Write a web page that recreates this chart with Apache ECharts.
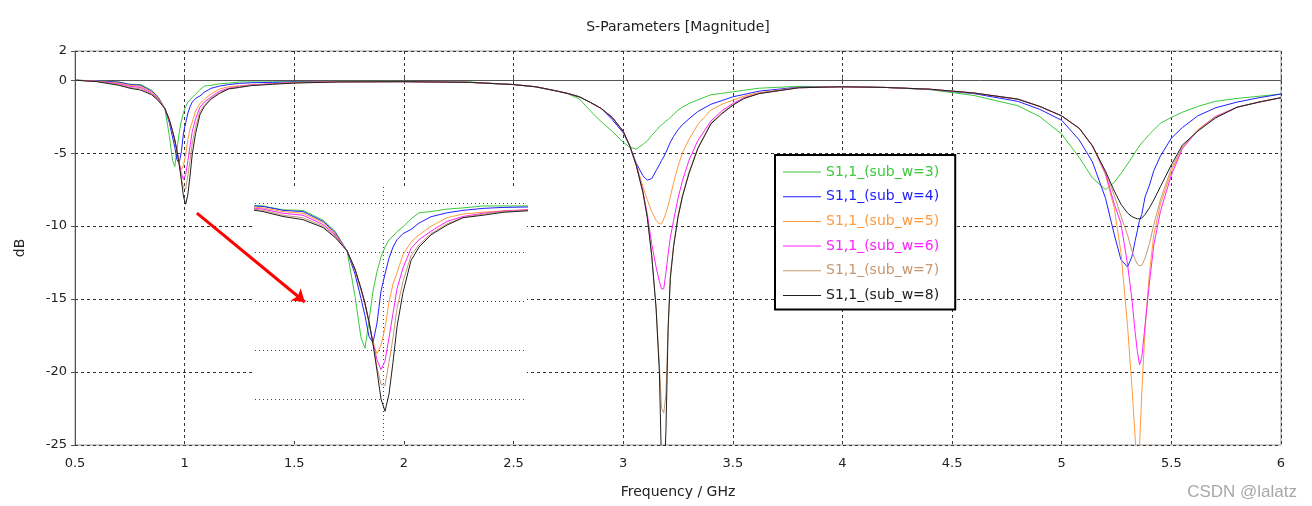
<!DOCTYPE html>
<html><head><meta charset="utf-8">
<script src="https://cdn.jsdelivr.net/npm/echarts@6/dist/echarts.min.js"></script>
<style>html,body{margin:0;padding:0;background:#fff}#c{width:1312px;height:506px}</style>
</head><body><div id="c"></div>
<script>
// Frequency points (GHz)
const freq = [
  0.5, 0.6, 0.7, 0.75, 0.8, 0.85, 0.88, 0.91, 0.93, 0.945, 0.955, 0.965, 0.975, 0.985, 0.995, 1.005, 1.015, 1.025, 1.035, 1.05, 1.07, 1.09, 1.12, 1.16, 1.2, 1.25, 1.3, 1.4, 1.5,
  1.7, 2.0, 2.3, 2.5, 2.6, 2.7, 2.75, 2.8, 2.85, 2.9,
  2.95, 3.0, 3.03, 3.06, 3.09, 3.11, 3.13, 3.15, 3.165, 3.175, 3.185, 3.195, 3.205, 3.215, 3.23, 3.25, 3.27, 3.3, 3.34, 3.4, 3.45, 3.5, 3.55, 3.62,
  3.8, 4.0, 4.2, 4.4, 4.6, 4.8, 4.9, 5.0,
  5.08, 5.14, 5.2, 5.24, 5.27, 5.3, 5.32, 5.335, 5.345, 5.355, 5.365, 5.38, 5.4, 5.42, 5.45, 5.5, 5.55, 5.62, 5.7, 5.8, 5.9, 6.0
];
// |S11| in dB for each sub_w
const subW3 = [
  0, -0.05, -0.12, -0.28, -0.3, -0.7, -1.15, -1.95, -3.8, -5.5, -5.93, -4.8, -3.6, -2.8, -2.2, -1.8, -1.5, -1.35, -1.17, -0.97, -0.65, -0.4, -0.35, -0.25, -0.2, -0.12, -0.12, -0.12, -0.1,
  -0.08, -0.08, -0.12, -0.3, -0.45, -0.75, -0.95, -1.28, -2.1, -2.85,
  -3.5, -4.25, -4.6, -4.72, -4.4, -4.15, -3.8, -3.45, -3.2, -3.05, -2.95, -2.8, -2.7, -2.55, -2.35, -2.05, -1.85, -1.6, -1.35, -1.0, -0.9, -0.8, -0.69, -0.55,
  -0.42, -0.45, -0.5, -0.65, -1.05, -1.75, -2.5, -3.7,
  -5.3, -6.7, -7.5, -7.0, -6.4, -5.75, -5.3, -4.95, -4.7, -4.5, -4.3, -4.05, -3.7, -3.4, -2.95, -2.55, -2.2, -1.8, -1.45, -1.25, -1.1, -0.95
];
const subW4 = [
  0, -0.05, -0.14, -0.3, -0.35, -0.75, -1.2, -1.95, -2.9, -3.9, -4.6, -5.45, -5.7, -4.9, -3.6, -2.9, -2.25, -1.8, -1.5, -1.25, -1.08, -0.82, -0.56, -0.4, -0.3, -0.22, -0.18, -0.15, -0.12,
  -0.1, -0.1, -0.15, -0.3, -0.45, -0.75, -0.92, -1.14, -1.52, -1.94,
  -2.7, -3.6, -4.5, -5.7, -6.55, -6.85, -6.75, -6.2, -5.8, -5.5, -5.25, -4.95, -4.6, -4.25, -3.85, -3.4, -3.05, -2.65, -2.15, -1.65, -1.4, -1.14, -0.98, -0.75,
  -0.48, -0.45, -0.5, -0.63, -0.92, -1.45, -2.0, -2.75,
  -4.1, -5.6, -8.1, -10.6, -12.3, -12.8, -12.1, -11.0, -10.3, -9.6, -9.2, -8.0, -7.2, -6.2, -5.2, -3.97, -3.25, -2.45, -1.9, -1.5, -1.2, -0.95
];
const subW5 = [
  0, -0.07, -0.2, -0.35, -0.42, -0.8, -1.25, -1.95, -2.75, -3.55, -4.15, -4.9, -5.7, -6.15, -5.8, -5.1, -4.05, -3.3, -2.85, -2.1, -1.6, -1.3, -0.95, -0.6, -0.45, -0.38, -0.32, -0.25, -0.15,
  -0.1, -0.1, -0.15, -0.3, -0.45, -0.75, -0.92, -1.14, -1.52, -1.94,
  -2.55, -3.5, -4.5, -5.8, -7.3, -8.2, -9.0, -9.6, -9.85, -9.85, -9.5, -9.1, -8.6, -8.0, -7.0, -5.9, -5.0, -4.05, -3.05, -2.05, -1.65, -1.37, -1.1, -0.85,
  -0.5, -0.45, -0.5, -0.62, -0.88, -1.3, -1.8, -2.45,
  -3.3, -4.5, -6.5, -8.8, -11.8, -16.8, -21, -24.5, -27.5, -25, -21.5, -17, -13.2, -10.6, -8.5, -6.26, -4.6, -3.4, -2.5, -1.85, -1.5, -1.2
];
const subW6 = [
  0, -0.08, -0.25, -0.42, -0.5, -0.88, -1.3, -1.95, -2.7, -3.5, -4.1, -4.85, -5.7, -6.4, -6.8, -6.45, -5.5, -4.5, -3.5, -2.65, -1.85, -1.5, -1.15, -0.75, -0.55, -0.42, -0.33, -0.24, -0.17,
  -0.12, -0.1, -0.15, -0.3, -0.45, -0.75, -0.92, -1.14, -1.52, -1.94,
  -2.55, -3.5, -4.5, -5.85, -7.6, -9.2, -11.2, -12.8, -13.8, -14.3, -14.3, -13.2, -11.9, -10.8, -9.6, -8.1, -6.9, -5.5, -4.15, -2.8, -2.1, -1.6, -1.2, -0.9,
  -0.52, -0.45, -0.5, -0.62, -0.88, -1.3, -1.8, -2.45,
  -3.3, -4.5, -6.4, -8.5, -9.8, -12.6, -15.0, -17.3, -18.6, -19.5, -19.0, -16.8, -13.9, -11.3, -9.0, -6.5, -4.7, -3.45, -2.5, -1.85, -1.5, -1.2
];
const subW7 = [
  0, -0.09, -0.3, -0.5, -0.6, -0.95, -1.35, -1.95, -2.7, -3.5, -4.1, -4.85, -5.75, -6.7, -7.4, -7.45, -6.5, -5.5, -4.3, -3.2, -2.15, -1.7, -1.25, -0.85, -0.6, -0.45, -0.35, -0.26, -0.18,
  -0.12, -0.1, -0.15, -0.3, -0.45, -0.75, -0.92, -1.14, -1.52, -1.94,
  -2.55, -3.5, -4.5, -5.85, -7.7, -9.4, -12.0, -15.6, -19.5, -22.5, -22.8, -21.5, -17, -13.4, -11.3, -9.3, -7.9, -6.3, -4.65, -2.95, -2.25, -1.68, -1.24, -0.9,
  -0.52, -0.45, -0.5, -0.62, -0.88, -1.3, -1.8, -2.45,
  -3.3, -4.5, -6.3, -7.9, -9.3, -10.6, -11.7, -12.3, -12.6, -12.7, -12.7, -12.2, -11.2, -9.9, -8.2, -6.03, -4.6, -3.45, -2.55, -1.85, -1.5, -1.2
];
const subW8 = [
  0, -0.1, -0.35, -0.55, -0.68, -1.0, -1.4, -1.95, -2.7, -3.5, -4.1, -4.85, -5.75, -6.85, -8.0, -8.5, -7.8, -6.5, -5.05, -3.65, -2.35, -1.8, -1.3, -0.9, -0.6, -0.5, -0.38, -0.28, -0.2,
  -0.12, -0.1, -0.15, -0.3, -0.45, -0.75, -0.92, -1.14, -1.52, -1.94,
  -2.55, -3.5, -4.5, -5.85, -7.7, -9.4, -12.0, -15.6, -20, -26.5, -28, -24, -17, -13.6, -11.4, -9.4, -8.0, -6.4, -4.7, -3.0, -2.3, -1.72, -1.26, -0.92,
  -0.52, -0.45, -0.5, -0.62, -0.88, -1.3, -1.8, -2.45,
  -3.3, -4.5, -6.25, -7.6, -8.5, -9.1, -9.35, -9.45, -9.5, -9.5, -9.45, -9.2, -8.75, -8.2, -7.3, -5.8, -4.45, -3.5, -2.6, -1.85, -1.5, -1.2
];
const seriesNames = ['S1,1_(sub_w=3)', 'S1,1_(sub_w=4)', 'S1,1_(sub_w=5)', 'S1,1_(sub_w=6)', 'S1,1_(sub_w=7)', 'S1,1_(sub_w=8)'];
const seriesValues = [subW3, subW4, subW5, subW6, subW7, subW8];
const seriesColors = ['#3cc83c', '#2020ff', '#ff9a3c', '#ff20ff', '#c8966e', '#202020'];
// Inset (zoom of 1 GHz resonance)
const insetXRange = [0.68, 1.36];
const insetYRange = [-9.673, 0.653];
const insetGridY = [0, -2, -4, -6, -8];
const insetGridX = [1];
// Annotation arrow (main axes coords)
const arrowFrom = [1.056, -9.11];
const arrowTo = [1.548, -15.2];

const FONT = 'DejaVu Sans';
const chart = echarts.init(document.getElementById('c'), null, {renderer: 'canvas'});

const mainSeries = seriesNames.map((n, i) => ({
  name: n, type: 'line', xAxisIndex: 0, yAxisIndex: 0,
  data: freq.map((f, k) => [f, seriesValues[i][k]]),
  showSymbol: false, symbol: 'none', clip: true, z: 2,
  lineStyle: {color: seriesColors[i], width: 1}, itemStyle: {color: seriesColors[i]}
}));
const insetSeries = seriesNames.map((n, i) => ({
  name: n, type: 'line', xAxisIndex: 1, yAxisIndex: 1,
  data: freq.map((f, k) => [f, seriesValues[i][k]]),
  showSymbol: false, symbol: 'none', clip: true, z: 6, silent: true,
  lineStyle: {color: seriesColors[i], width: 1}, itemStyle: {color: seriesColors[i]}
}));

const legendLineIcon = 'path://M0,6.5H38V7.5H0Z M0,0H0.01V0.01H0Z M37.99,13.99H38V14H37.99Z';

const option = {
  animation: false,
  textStyle: {fontFamily: FONT},
  graphic: [
    {type: 'text', x: 678, y: 27, style: {text: 'S-Parameters [Magnitude]', align: 'center', verticalAlign: 'middle', fontSize: 14, fontFamily: FONT, fill: '#222'}},
    {type: 'text', x: 1297, y: 492, style: {text: 'CSDN @lalatz', align: 'right', verticalAlign: 'middle', fontSize: 17, fontFamily: 'Liberation Sans', fill: '#a8a8a8'}}
  ],
  legend: {
    orient: 'vertical', left: 775, top: 155,
    padding: [10, 16, 7, 8], itemGap: 10.7, itemWidth: 38, itemHeight: 14,
    backgroundColor: '#fff', borderColor: '#000', borderWidth: 2,
    icon: legendLineIcon,
    textStyle: {fontSize: 14, fontFamily: FONT},
    data: seriesNames.map((n, i) => ({name: n, icon: legendLineIcon, itemStyle: {color: seriesColors[i], borderWidth: 0}, textStyle: {color: seriesColors[i]}}))
  },
  grid: [
    {left: 75, top: 51, width: 1206, height: 394, show: true, borderColor: '#9a9a9a', borderWidth: 1, backgroundColor: 'transparent'},
    {left: 255, top: 187, width: 272, height: 253, show: true, backgroundColor: '#fff', borderWidth: 0, z: 3}
  ],
  xAxis: [
    {gridIndex: 0, type: 'value', min: 0.5, max: 6, interval: 0.5,
     name: 'Frequency / GHz', nameLocation: 'middle', nameGap: 40,
     nameTextStyle: {fontSize: 14, color: '#222', fontFamily: FONT},
     axisLine: {lineStyle: {color: '#555', width: 1}},
     axisTick: {inside: true, length: 4, lineStyle: {color: '#555'}},
     axisLabel: {margin: 12, color: '#222', fontSize: 13, fontFamily: FONT},
     splitLine: {show: true, lineStyle: {type: [3, 3], color: '#333', width: 1}}},
    {gridIndex: 1, type: 'value', min: insetXRange[0], max: insetXRange[1], show: false, z: 3}
  ],
  yAxis: [
    {gridIndex: 0, type: 'value', min: -25, max: 2, interval: 5,
     name: 'dB', nameLocation: 'middle', nameGap: 48, nameRotate: 90,
     nameTextStyle: {fontSize: 14, color: '#222', fontFamily: FONT},
     axisLine: {show: true, lineStyle: {color: '#555', width: 1}},
     axisTick: {show: true, length: 4, lineStyle: {color: '#555'}},
     axisLabel: {margin: 8, color: '#222', fontSize: 13, fontFamily: FONT},
     splitLine: {show: true, lineStyle: {type: [3, 3], color: '#333', width: 1}}},
    {gridIndex: 1, type: 'value', min: insetYRange[0], max: insetYRange[1], show: false, z: 3}
  ],
  series: mainSeries.concat(insetSeries).concat([
    {type: 'line', name: '_insetGrid', xAxisIndex: 1, yAxisIndex: 1, data: [], silent: true, z: 4,
     markLine: {silent: true, symbol: 'none', z: 4, animation: false, label: {show: false},
       lineStyle: {type: [1, 3], color: '#444', width: 1},
       emphasis: {disabled: true},
       data: insetGridY.map(v => ({yAxis: v})).concat(insetGridX.map(v => ({xAxis: v})))}},
    {type: 'line', name: '_arrow', xAxisIndex: 0, yAxisIndex: 0, data: [], silent: true,
     markLine: {silent: true, symbol: ['none', 'arrow'], symbolSize: 12, z: 7, animation: false, label: {show: false},
       lineStyle: {type: 'solid', color: '#ff0000', width: 3},
       emphasis: {disabled: true},
       data: [[{coord: arrowFrom}, {coord: arrowTo}]]}}
  ])
};
chart.setOption(option);
</script>
</body></html>
